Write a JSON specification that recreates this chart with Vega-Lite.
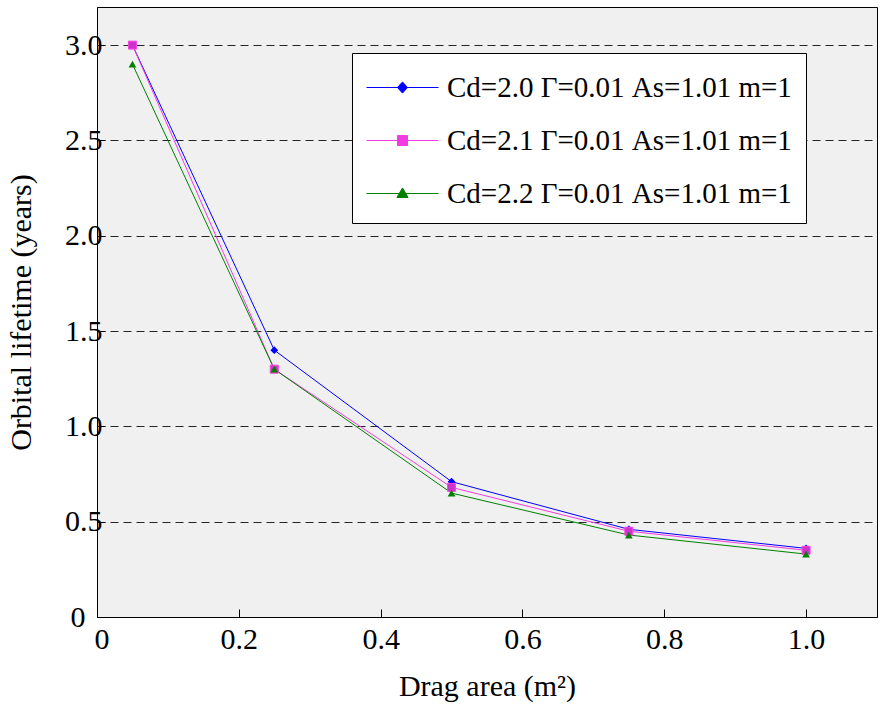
{
  "$schema": "https://vega.github.io/schema/vega-lite/v6.json",
  "width": 780,
  "height": 610,
  "autosize": {"type": "none"},
  "padding": {"left": 97, "top": 7, "right": 3, "bottom": 90},
  "background": "white",
  "config": {
    "view": {"fill": "#f0f0f0", "stroke": "black", "strokeWidth": 1},
    "font": "Liberation Serif",
    "axis": {
      "labelFont": "Liberation Serif",
      "titleFont": "Liberation Serif",
      "labelFontSize": 30,
      "titleFontSize": 30,
      "labelColor": "black",
      "titleColor": "black",
      "titleFontWeight": "normal",
      "domainColor": "black",
      "tickColor": "black",
      "tickSize": -8
    }
  },
  "data": {
    "values": [
      {"s": "Cd=2.0 Γ=0.01 As=1.01 m=1", "x": 0.05, "y": 3.0},
      {"s": "Cd=2.0 Γ=0.01 As=1.01 m=1", "x": 0.25, "y": 1.4},
      {"s": "Cd=2.0 Γ=0.01 As=1.01 m=1", "x": 0.5, "y": 0.71},
      {"s": "Cd=2.0 Γ=0.01 As=1.01 m=1", "x": 0.75, "y": 0.46},
      {"s": "Cd=2.0 Γ=0.01 As=1.01 m=1", "x": 1.0, "y": 0.36},
      {"s": "Cd=2.1 Γ=0.01 As=1.01 m=1", "x": 0.05, "y": 3.0},
      {"s": "Cd=2.1 Γ=0.01 As=1.01 m=1", "x": 0.25, "y": 1.3},
      {"s": "Cd=2.1 Γ=0.01 As=1.01 m=1", "x": 0.5, "y": 0.68},
      {"s": "Cd=2.1 Γ=0.01 As=1.01 m=1", "x": 0.75, "y": 0.45},
      {"s": "Cd=2.1 Γ=0.01 As=1.01 m=1", "x": 1.0, "y": 0.35},
      {"s": "Cd=2.2 Γ=0.01 As=1.01 m=1", "x": 0.05, "y": 2.9},
      {"s": "Cd=2.2 Γ=0.01 As=1.01 m=1", "x": 0.25, "y": 1.3},
      {"s": "Cd=2.2 Γ=0.01 As=1.01 m=1", "x": 0.5, "y": 0.65},
      {"s": "Cd=2.2 Γ=0.01 As=1.01 m=1", "x": 0.75, "y": 0.43},
      {"s": "Cd=2.2 Γ=0.01 As=1.01 m=1", "x": 1.0, "y": 0.33}
    ]
  },
  "encoding": {
    "x": {
      "field": "x", "type": "quantitative",
      "scale": {"domain": [0, 1.1], "nice": false, "zero": false},
      "axis": {
        "title": "Drag area (m²)",
        "values": [0, 0.2, 0.4, 0.6, 0.8, 1.0],
        "labelExpr": "datum.value === 0 ? '0' : format(datum.value, '.1f')",
        "grid": false,
        "labelPadding": 15,
        "titlePadding": 17,
        "labelOffset": {"condition": {"test": "datum.value === 0", "value": -3}, "value": 0}
      }
    },
    "y": {
      "field": "y", "type": "quantitative",
      "scale": {"domain": [0, 3.2], "nice": false},
      "axis": {
        "title": "Orbital lifetime (years)",
        "values": [0, 0.5, 1.0, 1.5, 2.0, 2.5, 3.0],
        "labelExpr": "datum.value === 0 ? '0' : format(datum.value, '.1f')",
        "grid": true,
        "gridColor": "black",
        "gridDash": [8, 5],
        "gridOpacity": 0.85,
        "labelPadding": {"condition": {"test": "datum.value === 0", "value": 20}, "value": 3},
        "titlePadding": 28
      }
    },
    "color": {
      "field": "s", "type": "nominal",
      "scale": {
        "domain": ["Cd=2.0 Γ=0.01 As=1.01 m=1", "Cd=2.1 Γ=0.01 As=1.01 m=1", "Cd=2.2 Γ=0.01 As=1.01 m=1"],
        "range": ["#0000ff", "#f03ce0", "#008000"]
      },
      "legend": {
        "orient": "none",
        "legendX": 255,
        "legendY": 46,
        "title": null,
        "fillColor": "white",
        "strokeColor": "black",
        "padding": 14,
        "symbolSize": 1600,
        "symbolStrokeWidth": 1,
        "labelFont": "Liberation Serif",
        "labelFontSize": 29,
        "labelColor": "black",
        "labelOffset": 40,
        "labelLimit": 500,
        "rowPadding": 17,
        "encode": {
          "symbols": {
            "update": {
              "shape": {"signal": "datum.value === 'Cd=2.0 Γ=0.01 As=1.01 m=1' ? 'M-1,0H2.6M0.8,-0.28L1.05,0L0.8,0.28L0.55,0Z' : datum.value === 'Cd=2.1 Γ=0.01 As=1.01 m=1' ? 'M-1,0H2.6M0.55,-0.25H1.05V0.25H0.55Z' : 'M-1,0H2.6M0.8,-0.28L1.08,0.2H0.52Z'"},
              "stroke": {"signal": "scale('color', datum.value)"},
              "fill": {"signal": "scale('color', datum.value)"},
              "strokeWidth": {"value": 1}
            }
          }
        }
      }
    }
  },
  "layer": [
    {"mark": {"type": "line", "strokeWidth": 1}},
    {
      "transform": [{"filter": "datum.s === 'Cd=2.0 Γ=0.01 As=1.01 m=1'"}],
      "mark": {"type": "point", "filled": true, "opacity": 1, "size": 60, "shape": "diamond"}
    },
    {
      "transform": [{"filter": "datum.s === 'Cd=2.1 Γ=0.01 As=1.01 m=1'"}],
      "mark": {"type": "point", "filled": true, "opacity": 1, "size": 64, "shape": "square", "fill": "#cc33cc", "stroke": "#ff44e0", "strokeWidth": 1},
      "encoding": {"color": {"value": "#cc33cc"}}
    },
    {
      "transform": [{"filter": "datum.s === 'Cd=2.2 Γ=0.01 As=1.01 m=1'"}],
      "mark": {"type": "point", "filled": true, "opacity": 1, "size": 60, "shape": "triangle-up"}
    }
  ]
}
